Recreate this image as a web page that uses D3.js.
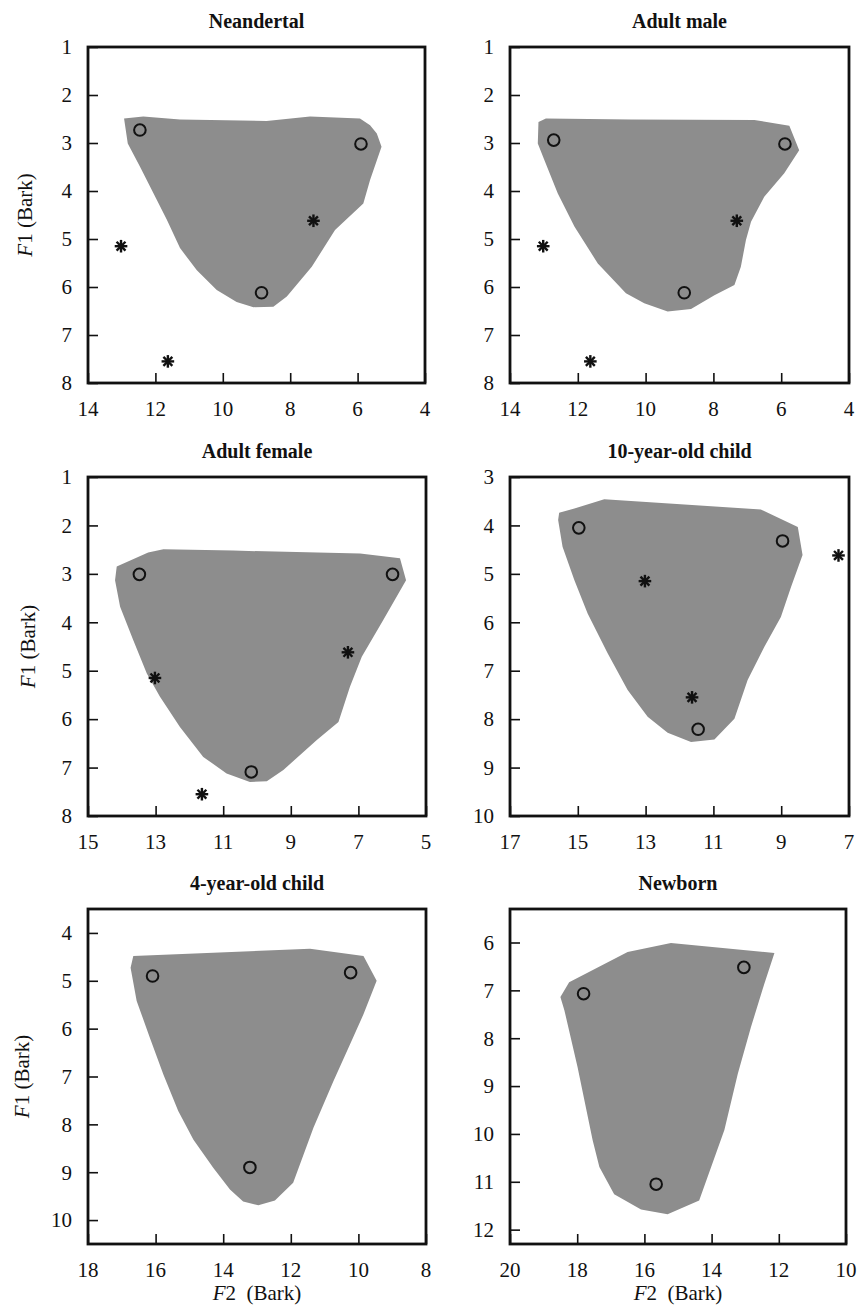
<!DOCTYPE html>
<html>
<head>
<meta charset="utf-8">
<script src="https://cdn.jsdelivr.net/npm/d3@7"></script>
<style>
  html, body { margin: 0; padding: 0; background: #fff; }
  svg { display: block; }
  text { font-family: "Liberation Serif", "Times New Roman", "DejaVu Serif", serif; fill: #111; }
</style>
</head>
<body>
<script>
// ---------------- DATA ----------------
const panelTitles = ["Neandertal", "Adult male", "Adult female", "10-year-old child", "4-year-old child", "Newborn"];

// axis domains [F2 left, F2 right], [F1 top, F1 bottom]
const xDomains = [[14, 4], [14, 4], [15, 5], [17, 7], [18, 8], [20, 10]];
const yDomains = [[1, 8], [1, 8], [1, 8], [3, 10], [3.5, 10.5], [5.3, 12.3]];
const xTickValues = [
  [14, 12, 10, 8, 6, 4], [14, 12, 10, 8, 6, 4], [15, 13, 11, 9, 7, 5],
  [17, 15, 13, 11, 9, 7], [18, 16, 14, 12, 10, 8], [20, 18, 16, 14, 12, 10]
];
const yTickValues = [
  [1, 2, 3, 4, 5, 6, 7, 8], [1, 2, 3, 4, 5, 6, 7, 8], [1, 2, 3, 4, 5, 6, 7, 8],
  [3, 4, 5, 6, 7, 8, 9, 10], [4, 5, 6, 7, 8, 9, 10], [6, 7, 8, 9, 10, 11, 12]
];

// vowel space areas [F2, F1] (Bark)
const areaNeandertal = [[12.93,2.49],[12.36,2.45],[11.27,2.51],[8.70,2.54],[7.41,2.45],[5.93,2.49],[5.63,2.63],[5.43,2.80],[5.29,3.08],[5.63,3.77],[5.83,4.26],[6.67,4.81],[7.36,5.58],[8.10,6.20],[8.50,6.41],[9.09,6.42],[9.59,6.31],[10.18,6.06],[10.77,5.65],[11.27,5.19],[11.66,4.60],[12.46,3.49],[12.82,3.01]];
const areaAdultMale = [[13.16,2.56],[12.94,2.49],[10.43,2.51],[6.79,2.52],[5.76,2.64],[5.47,3.15],[5.91,3.63],[6.50,4.12],[6.89,4.64],[7.04,5.02],[7.19,5.58],[7.38,5.96],[7.97,6.17],[8.66,6.46],[9.35,6.51],[10.04,6.34],[10.58,6.13],[11.41,5.51],[12.10,4.74],[12.59,4.05],[12.99,3.35],[13.18,3.01]];
const areaAdultFemale = [[14.15,2.85],[13.22,2.56],[12.77,2.49],[10.70,2.52],[6.95,2.58],[5.77,2.68],[5.59,3.13],[6.26,3.95],[6.90,4.71],[7.25,5.33],[7.59,6.06],[8.23,6.43],[9.22,7.05],[9.71,7.28],[10.21,7.30],[10.90,7.12],[11.59,6.78],[12.28,6.16],[12.87,5.54],[13.26,5.06],[13.66,4.37],[14.05,3.68],[14.20,3.13]];
const areaChild10 = [[15.55,3.74],[15.10,3.65],[14.22,3.46],[9.60,3.67],[8.51,4.03],[8.37,4.61],[8.71,5.27],[9.01,5.89],[9.50,6.51],[9.99,7.19],[10.38,7.99],[10.97,8.42],[11.66,8.47],[12.35,8.28],[12.94,7.95],[13.53,7.40],[14.12,6.64],[14.71,5.82],[15.10,5.13],[15.45,4.44],[15.58,3.89]];
const areaChild4 = [[16.66,4.48],[11.43,4.33],[9.85,4.48],[9.46,5.00],[9.85,5.70],[10.25,6.33],[10.74,7.10],[11.33,8.07],[11.93,9.22],[12.47,9.59],[12.96,9.69],[13.41,9.61],[13.80,9.36],[14.29,8.91],[14.88,8.32],[15.33,7.72],[15.77,6.96],[16.17,6.19],[16.56,5.42],[16.74,4.73]];
const areaNewborn = [[18.50,7.14],[18.24,6.83],[16.50,6.20],[15.21,6.01],[12.13,6.22],[12.43,6.86],[12.83,7.77],[13.22,8.74],[13.62,9.92],[14.37,11.39],[15.31,11.68],[16.10,11.58],[16.90,11.26],[17.34,10.69],[17.54,10.13],[17.99,8.60],[18.38,7.42]];

// point vowels (open circles) [F2, F1]
const vowelsNeandertal = [[12.46,2.73],[5.90,3.02],[8.85,6.12]];
const vowelsAdultMale = [[12.71,2.94],[5.89,3.02],[8.86,6.12]];
const vowelsAdultFemale = [[13.48,3.01],[5.99,3.01],[10.17,7.09]];
const vowelsChild10 = [[14.97,4.05],[8.96,4.32],[11.45,8.21]];
const vowelsChild4 = [[16.09,4.90],[10.23,4.83],[13.21,8.90]];
const vowelsNewborn = [[17.81,7.07],[13.04,6.52],[15.65,11.05]];

// reference asterisks [F2, F1] (shown in first four panels)
const asteriskPoints = [[13.02,5.15],[11.63,7.55],[7.31,4.62]];
const showAsterisks = [true, true, true, true, false, false];

const areas = [areaNeandertal, areaAdultMale, areaAdultFemale, areaChild10, areaChild4, areaNewborn];
const vowels = [vowelsNeandertal, vowelsAdultMale, vowelsAdultFemale, vowelsChild10, vowelsChild4, vowelsNewborn];

// ---------------- LAYOUT ----------------
const W = 862, H = 1306;
const FONT = "'Liberation Serif', 'Times New Roman', serif";
const boxes = [ // [left, top, right, bottom]
  [88, 47, 425, 383], [510, 47, 849, 383],
  [88, 477, 426, 816], [510, 477, 849, 816],
  [88, 909, 426, 1244], [510, 909, 846, 1244]
];
const showYLabel = [true, false, true, false, true, false];
const yLabelX = [32, 0, 35, 0, 29, 0];
const showXLabel = [false, false, false, false, true, true];

const svg = d3.select("body").append("svg").attr("width", W).attr("height", H)
  .attr("font-family", FONT);

panelTitles.forEach((title, i) => {
  const [L, T, R, B] = boxes[i];
  const x = d3.scaleLinear().domain(xDomains[i]).range([L, R]);
  const y = d3.scaleLinear().domain(yDomains[i]).range([T, B]);
  const g = svg.append("g");

  // area polygon
  g.append("path")
    .datum(areas[i])
    .attr("d", d3.line().x(d => x(d[0])).y(d => y(d[1])).curve(d3.curveLinearClosed))
    .attr("fill", "#8d8d8d")
    .attr("stroke", "none");

  // x axis ticks (inward) and labels
  const xAxis = d3.axisTop(x).tickValues(xTickValues[i]).tickSize(10).tickFormat("");
  g.append("g").attr("transform", `translate(0,${B})`).call(xAxis)
    .call(s => s.select(".domain").remove())
    .call(s => s.selectAll(".tick line").attr("stroke", "#111").attr("stroke-width", 1.6));
  g.selectAll(".xlab").data(xTickValues[i]).enter().append("text")
    .attr("x", d => x(d)).attr("y", B + 33)
    .attr("text-anchor", "middle").attr("font-size", 21).attr("font-family", FONT)
    .text(d => d);

  // y axis ticks (inward) and labels
  const yAxis = d3.axisRight(y).tickValues(yTickValues[i]).tickSize(10).tickFormat("");
  g.append("g").attr("transform", `translate(${L},0)`).call(yAxis)
    .call(s => s.select(".domain").remove())
    .call(s => s.selectAll(".tick line").attr("stroke", "#111").attr("stroke-width", 1.6));
  g.selectAll(".ylab").data(yTickValues[i]).enter().append("text")
    .attr("x", L - 16).attr("y", d => y(d))
    .attr("dy", "0.35em")
    .attr("text-anchor", "end").attr("font-size", 21).attr("font-family", FONT)
    .text(d => d);

  // frame
  g.append("rect")
    .attr("x", L).attr("y", T).attr("width", R - L).attr("height", B - T)
    .attr("fill", "none").attr("stroke", "#111").attr("stroke-width", 2.8);

  // circles
  g.selectAll(".vowel").data(vowels[i]).enter().append("circle")
    .attr("cx", d => x(d[0])).attr("cy", d => y(d[1])).attr("r", 5.8)
    .attr("fill", "none").attr("stroke", "#111").attr("stroke-width", 2);

  // asterisks
  if (showAsterisks[i]) {
    const star = g.selectAll(".star").data(asteriskPoints).enter().append("g")
      .attr("transform", d => `translate(${x(d[0])},${y(d[1])})`);
    const r = 6.3;
    d3.range(4).forEach(k => {
      const a = k * Math.PI / 4;
      star.append("line")
        .attr("x1", -r * Math.cos(a)).attr("y1", -r * Math.sin(a))
        .attr("x2", r * Math.cos(a)).attr("y2", r * Math.sin(a))
        .attr("stroke", "#111").attr("stroke-width", 2.4);
    });
  }

  // title
  g.append("text")
    .attr("x", (L + R) / 2).attr("y", T - 19)
    .attr("text-anchor", "middle").attr("font-size", 20).attr("font-weight", "bold")
    .attr("font-family", FONT)
    .text(title);

  // y label
  if (showYLabel[i]) {
    const t = g.append("text")
      .attr("transform", `translate(${yLabelX[i]},${(T + B) / 2}) rotate(-90)`)
      .attr("text-anchor", "middle").attr("font-size", 21).attr("font-family", FONT);
    t.append("tspan").attr("font-style", "italic").text("F");
    t.append("tspan").text("1 (Bark)");
  }
  // x label
  if (showXLabel[i]) {
    const t = g.append("text")
      .attr("x", (L + R) / 2).attr("y", B + 56)
      .attr("text-anchor", "middle").attr("font-size", 21).attr("font-family", FONT);
    t.append("tspan").attr("font-style", "italic").text("F");
    t.append("tspan").text("2\u00a0\u00a0(Bark)");
  }
});
</script>
</body>
</html>
